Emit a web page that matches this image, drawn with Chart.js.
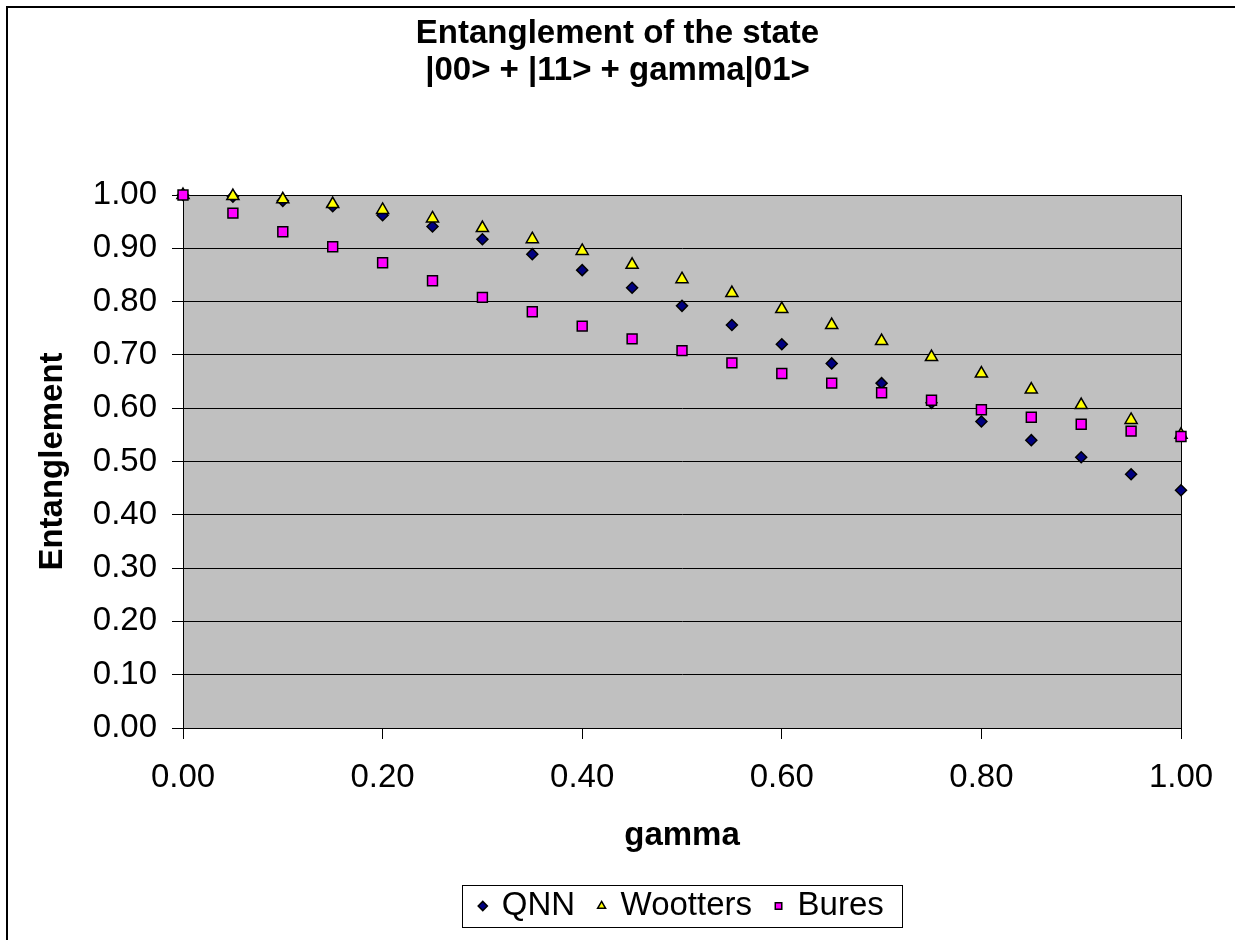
<!DOCTYPE html>
<html>
<head>
<meta charset="utf-8">
<script src="https://cdn.jsdelivr.net/npm/chart.js@4/dist/chart.umd.min.js"></script>
<style>
html,body{margin:0;padding:0;background:#fff;overflow:hidden;}
#wrap{position:relative;width:1235px;height:940px;}
</style>
</head>
<body>
<div id="wrap"><canvas id="c" width="1235" height="940"></canvas></div>
<script>
const gamma = [0.00,0.05,0.10,0.15,0.20,0.25,0.30,0.35,0.40,0.45,0.50,0.55,0.60,0.65,0.70,0.75,0.80,0.85,0.90,0.95,1.00];
const qnn = [1.000,0.997,0.989,0.979,0.962,0.941,0.917,0.889,0.859,0.826,0.792,0.756,0.720,0.684,0.647,0.610,0.575,0.540,0.508,0.476,0.446];
const wootters = [1.000,0.998,0.992,0.983,0.972,0.956,0.938,0.917,0.895,0.869,0.842,0.816,0.786,0.756,0.726,0.696,0.665,0.635,0.606,0.578,0.550];
const bures = [1.000,0.966,0.931,0.903,0.873,0.839,0.808,0.781,0.754,0.730,0.708,0.685,0.665,0.647,0.629,0.615,0.597,0.583,0.570,0.557,0.547];
const seriesNames = ['QNN','Wootters','Bures'];
const titleLines = ['Entanglement of the state','|00> + |11> + gamma|01>'];
const xTitle = 'gamma';
const yTitle = 'Entanglement';

const FONT = "'Liberation Sans', Arial, sans-serif";
const pts = arr => gamma.map((g,i)=>({x:g,y:arr[i]}));

const framePlugin = {
  id:'frame',
  beforeDraw(chart){
    const ctx = chart.ctx, a = chart.chartArea;
    ctx.save();
    ctx.fillStyle = '#fff';
    ctx.fillRect(0,0,chart.width,chart.height);
    ctx.strokeStyle = '#000';
    ctx.lineWidth = 2;
    ctx.beginPath();
    ctx.moveTo(7, chart.height);
    ctx.lineTo(7, 7);
    ctx.lineTo(chart.width, 7);
    ctx.stroke();
    ctx.fillStyle = '#C0C0C0';
    ctx.fillRect(a.left, a.top, a.right-a.left, a.bottom-a.top);
    ctx.restore();
  },
  beforeDatasetsDraw(chart){
    const ctx = chart.ctx, a = chart.chartArea;
    ctx.save();
    ctx.strokeStyle = '#000';
    ctx.lineWidth = 1;
    ctx.strokeRect(Math.round(a.left)+0.5, Math.round(a.top)+0.5, Math.round(a.right-a.left), Math.round(a.bottom-a.top));
    ctx.restore();
  },
  afterDraw(chart){
    const lg = chart.legend;
    if(!lg || !lg.legendHitBoxes || !lg.legendHitBoxes.length) return;
    const hb = lg.legendHitBoxes;
    const first = hb[0], last = hb[hb.length-1];
    const left = Math.round(first.left - 18) + 0.5;
    const right = Math.round(last.left + last.width + 18) + 0.5;
    const cy = first.top + first.height/2;
    const top = Math.round(cy - 21) + 0.5;
    const ctx = chart.ctx;
    ctx.save();
    ctx.strokeStyle = '#000';
    ctx.lineWidth = 1;
    ctx.strokeRect(left, top, right-left, 42);
    ctx.restore();
  }
};

new Chart(document.getElementById('c'), {
  type:'scatter',
  data:{
    datasets:[
      {label:seriesNames[0], data:pts(qnn), pointStyle:'rectRot', pointRadius:5.5, pointHoverRadius:5.5,
       backgroundColor:'#000080', borderColor:'#000', pointBorderWidth:1.5, order:3, clip:false},
      {label:seriesNames[1], data:pts(wootters), pointStyle:'triangle', pointRadius:7, pointHoverRadius:7,
       backgroundColor:'#FFFF00', borderColor:'#000', pointBorderWidth:1.5, order:2, clip:false},
      {label:seriesNames[2], data:pts(bures), pointStyle:'rect', pointRadius:7, pointHoverRadius:7,
       backgroundColor:'#FF00FF', borderColor:'#000', pointBorderWidth:1.5, order:1, clip:false}
    ]
  },
  options:{
    responsive:false,
    animation:false,
    devicePixelRatio:1,
    layout:{padding:{left:0,right:0,top:0,bottom:7.5}},
    plugins:{
      tooltip:{enabled:false},
      title:{display:true, text:titleLines, color:'#000',
        font:{family:FONT, size:33, weight:'bold', lineHeight:1.1},
        padding:{top:16,bottom:106.4}},
      legend:{position:'bottom', fullSize:false,
        labels:{usePointStyle:true, boxWidth:5, boxHeight:6.5, padding:24, color:'#000',
          font:{family:FONT, size:33},
          sort:(a,b)=>a.datasetIndex-b.datasetIndex}}
    },
    scales:{
      x:{type:'linear', min:0, max:1,
        afterFit:(s)=>{s.height=137.5; s.paddingRight=54;},
        ticks:{stepSize:0.2, color:'#000', padding:19, maxRotation:0,
          font:{family:FONT,size:33}, callback:v=>Number(v).toFixed(2)},
        grid:{drawOnChartArea:false, drawTicks:true, tickLength:11, color:'#000', tickColor:'#000'},
        border:{display:true, color:'#000', width:1},
        title:{display:true, text:xTitle, color:'#000', font:{family:FONT,size:33,weight:'bold'}, padding:{top:0,bottom:10}}
      },
      y:{type:'linear', min:0, max:1,
        afterFit:(s)=>{s.width=183;},
        ticks:{stepSize:0.1, color:'#000', padding:15,
          font:{family:FONT,size:33}, callback:v=>Number(v).toFixed(2)},
        grid:{drawOnChartArea:true, drawTicks:true, tickLength:11, color:'#000', tickColor:'#000'},
        border:{display:true, color:'#000', width:1},
        title:{display:true, text:yTitle, color:'#000', font:{family:FONT,size:33,weight:'bold'}, padding:{top:33,bottom:0}}
      }
    }
  },
  plugins:[framePlugin]
});
</script>
</body>
</html>
